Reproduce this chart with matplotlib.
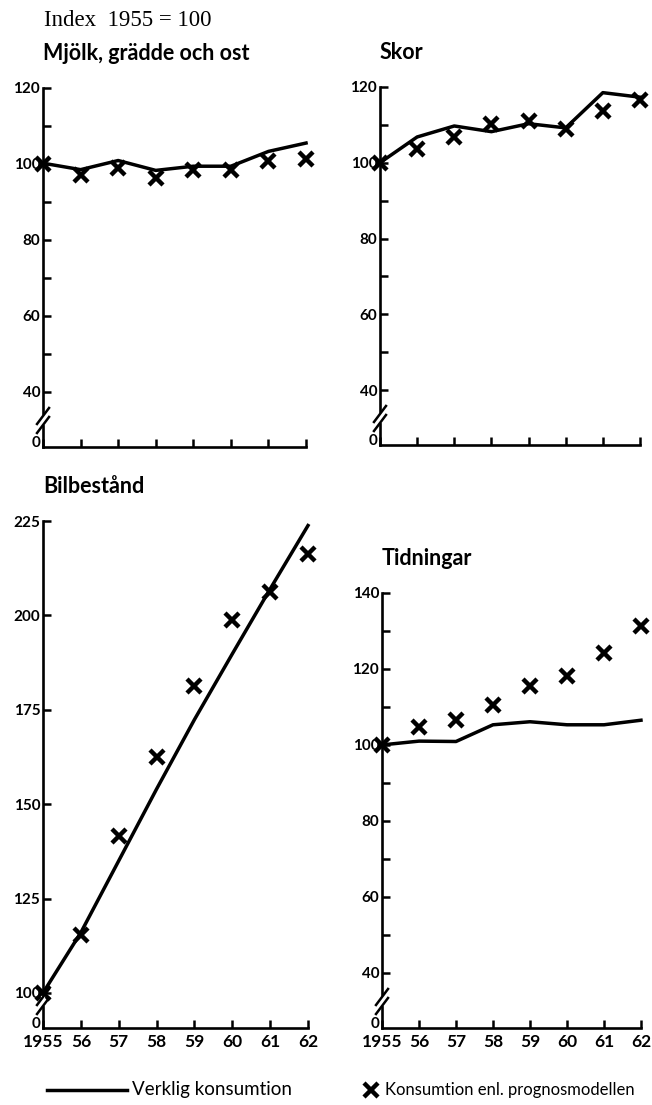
import matplotlib
matplotlib.use('Agg')
import matplotlib.pyplot as plt

plt.rcParams['font.family'] = ['Lato', 'DejaVu Sans']

years = [1955, 1956, 1957, 1958, 1959, 1960, 1961, 1962]
year_labels = ['1955', '56', '57', '58', '59', '60', '61', '62']

# Verklig konsumtion (line) and prognosmodellen (crosses), index 1955 = 100
mjolk_actual = [100.2, 98.5, 100.9, 98.3, 99.4, 99.4, 103.3, 105.5]
mjolk_model = [100, 97.2, 99.0, 96.3, 98.3, 98.3, 100.7, 101.3]

skor_actual = [100, 106.8, 109.7, 108.2, 110.3, 109.2, 118.5, 117.3]
skor_model = [100, 103.6, 106.7, 110.1, 111.0, 108.9, 113.7, 116.5]

bil_actual = [100, 116, 135, 154, 172.4, 189.8, 207, 223.8]
bil_model = [100, 115.4, 141.5, 162.4, 181.4, 198.7, 206.2, 216.3]

tidn_actual = [100, 101.0, 100.9, 105.3, 106.1, 105.3, 105.3, 106.5]
tidn_model = [100, 104.6, 106.5, 110.5, 115.4, 118.2, 124.3, 131.3]

panels = [
    ('Mjölk, grädde och ost', mjolk_actual, mjolk_model,
     [0.066, 0.5955, 0.4034, 0.3249], (25.5, 120), [40, 60, 80, 100, 120], [50, 70, 90, 110], False),
    ('Skor', skor_actual, skor_model,
     [0.5828, 0.5973, 0.3988, 0.324], (25.5, 120), [40, 60, 80, 100, 120], [50, 70, 90, 110], False),
    ('Bilbestånd', bil_actual, bil_model,
     [0.066, 0.0697, 0.4064, 0.4588], (90.7, 225), [100, 125, 150, 175, 200, 225], [], True),
    ('Tidningar', tidn_actual, tidn_model,
     [0.5859, 0.0697, 0.3972, 0.3937], (25.5, 140), [40, 60, 80, 100, 120, 140], [50, 70, 90, 110, 130], True),
]

fig = plt.figure(figsize=(6.52, 11.05), dpi=100)

for title, actual, model, rect, ylim, yt, ymin, show_x in panels:
    ax = fig.add_axes(rect)
    ax.plot(years, actual, color='black', lw=2.5, clip_on=False, zorder=3,
            solid_joinstyle='round')
    ax.plot(years, model, linestyle='none', marker='x', color='black', ms=10.5,
            mew=3.2, clip_on=False, zorder=4)

    ax.set_xlim(1955, 1962)
    ax.set_ylim(*ylim)
    ax.set_yticks([ylim[0]] + yt)
    ax.set_yticklabels(['0'] + [str(v) for v in yt], fontweight='bold')
    ax.set_yticks(ymin, minor=True)
    ax.set_xticks(years)
    if show_x:
        ax.set_xticklabels(year_labels, fontsize=12.5, fontweight='bold')
    else:
        ax.set_xticklabels([])

    for s in ['top', 'right']:
        ax.spines[s].set_visible(False)
    for s in ['left', 'bottom']:
        ax.spines[s].set_linewidth(1.9)
    ax.tick_params(axis='y', which='both', direction='in', length=6, width=1.8,
                   pad=2, labelsize=11)
    ax.tick_params(axis='x', which='both', direction='in', length=6, width=1.8,
                   pad=4)
    ax.yaxis.get_major_ticks()[0].tick1line.set_visible(False)
    ax.get_yticklabels()[0].set_va('baseline')

    # axis break marks
    bb = ax.get_position()
    w_px = bb.width * 652
    h_px = bb.height * 1105
    dx = 6 / w_px
    dy = 8 / h_px
    for yc in [22 / h_px, 31 / h_px]:
        ax.plot([-dx, dx], [yc - dy, yc + dy], transform=ax.transAxes,
                color='black', lw=1.8, clip_on=False, zorder=5)
    ax.plot([0, 0], [22 / h_px + 1.5 / h_px, 31 / h_px - 1.5 / h_px],
            transform=ax.transAxes, color='white', lw=3, clip_on=False, zorder=4)

    ax.text(0.0, 1.0 + 24 / h_px, title, transform=ax.transAxes,
            fontsize=15.5, fontweight='bold', ha='left', va='bottom')

fig.text(44 / 652, 1 - 21 / 1105, 'Index  1955 = 100', family='Liberation Serif',
         fontsize=16.5, ha='left', va='center')

# legend
ly = 1 - 1090 / 1105
fig.lines.append(plt.Line2D([47 / 652, 127 / 652], [ly, ly],
                            transform=fig.transFigure, color='black', lw=2.5))
fig.text(132 / 652, ly, 'Verklig konsumtion', fontsize=13.5,
         ha='left', va='center')
fig.lines.append(plt.Line2D([371 / 652], [ly], transform=fig.transFigure,
                            marker='x', ms=10, mew=3.2, color='black', linestyle='none'))
fig.text(385 / 652, ly, 'Konsumtion enl. prognosmodellen', fontsize=12,
         ha='left', va='center')

fig.savefig('out.png', dpi=100)
